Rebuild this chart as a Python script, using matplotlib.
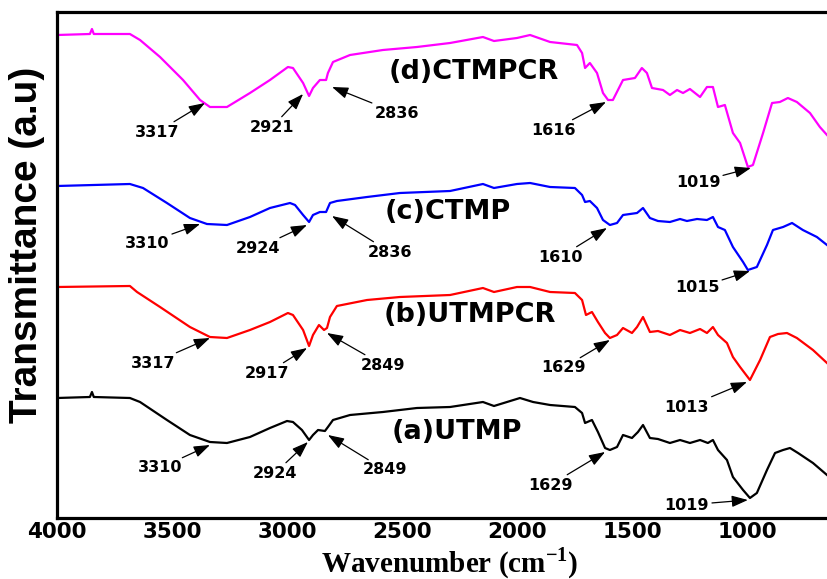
import matplotlib
matplotlib.use("Agg")
import matplotlib.pyplot as plt

# ---------------- data (wavenumber cm-1, transmittance a.u.) ----------------
wn_d = [4000, 3857, 3848, 3840, 3683, 3639, 3552, 3452, 3378, 3335, 3261, 3161, 3074, 2996, 2974,
        2930, 2904, 2887, 2857, 2830, 2822, 2800, 2726, 2583, 2435, 2291, 2148, 2100, 2000, 1943,
        1856, 1739, 1717, 1704, 1683, 1652, 1626, 1604, 1583, 1539, 1487, 1457, 1435, 1413, 1365,
        1335, 1304, 1278, 1248, 1204, 1174, 1148, 1126, 1096, 1061, 1030, 996, 974, 930, 891,
        857, 822, 783, 726, 683, 652]
t_d = [483, 484, 489, 484, 484, 478, 461, 438, 418, 411, 411, 425, 438, 451, 450,
       435, 422, 430, 438, 438, 445, 456, 463, 468, 471, 475, 481, 477, 480, 483,
       476, 473, 465, 450, 455, 445, 425, 418, 418, 438, 440, 450, 445, 430, 428,
       423, 428, 425, 429, 421, 431, 431, 411, 413, 385, 375, 351, 353, 385, 415,
       416, 420, 416, 405, 391, 383]

wn_c = [4000, 3683, 3626, 3522, 3422, 3348, 3261, 3161, 3074, 2987, 2965, 2930, 2904, 2887, 2857,
        2830, 2813, 2783, 2652, 2509, 2291, 2148, 2100, 2000, 1943, 1856, 1748, 1717, 1704, 1683,
        1652, 1626, 1596, 1565, 1539, 1478, 1452, 1422, 1387, 1335, 1291, 1261, 1217, 1174, 1148,
        1126, 1096, 1061, 1017, 996, 957, 913, 887, 843, 804, 757, 696, 652]
t_c = [332, 334, 330, 315, 300, 294, 293, 301, 310, 315, 313, 303, 296, 303, 306,
       306, 315, 317, 321, 325, 327, 334, 330, 334, 335, 331, 330, 323, 316, 317,
       310, 298, 293, 295, 303, 305, 310, 300, 297, 296, 299, 297, 299, 298, 301,
       291, 288, 271, 256, 248, 251, 273, 288, 291, 295, 288, 281, 273]

wn_b = [4000, 3683, 3652, 3552, 3422, 3335, 3261, 3161, 3074, 2996, 2974, 2930, 2904, 2887, 2861,
        2839, 2826, 2813, 2783, 2652, 2509, 2291, 2148, 2100, 2000, 1943, 1856, 1748, 1717, 1700,
        1674, 1648, 1617, 1596, 1565, 1539, 1500, 1478, 1452, 1422, 1387, 1335, 1291, 1248, 1204,
        1174, 1148, 1126, 1087, 1061, 1030, 987, 943, 900, 865, 826, 783, 713, 652]
t_b = [231, 232, 226, 211, 191, 181, 180, 188, 196, 205, 203, 188, 172, 183, 193,
       188, 190, 201, 212, 218, 221, 223, 230, 226, 231, 231, 226, 225, 218, 203,
       206, 196, 185, 180, 183, 190, 185, 191, 201, 186, 187, 183, 188, 185, 189,
       185, 191, 183, 175, 161, 151, 138, 158, 181, 184, 185, 180, 168, 155]

wn_a = [4000, 3857, 3848, 3840, 3683, 3639, 3522, 3422, 3335, 3261, 3161, 3074, 3000, 2974, 2935,
        2904, 2887, 2865, 2835, 2822, 2800, 2726, 2583, 2435, 2291, 2148, 2100, 1987, 1930, 1856,
        1748, 1717, 1704, 1674, 1648, 1617, 1596, 1565, 1539, 1500, 1474, 1452, 1422, 1387, 1335,
        1291, 1248, 1204, 1170, 1148, 1126, 1087, 1061, 1017, 987, 957, 913, 878, 843, 813,
        778, 713, 652]
t_a = [120, 121, 126, 121, 120, 116, 98, 83, 76, 75, 81, 90, 97, 96, 88,
       78, 83, 88, 87, 91, 98, 103, 106, 110, 111, 116, 112, 120, 116, 113,
       111, 105, 95, 98, 86, 70, 68, 71, 83, 80, 86, 93, 80, 79, 75,
       78, 75, 78, 75, 78, 68, 58, 41, 28, 20, 25, 48, 65, 68, 70,
       65, 55, 43]

series_names = ["(d)CTMPCR", "(c)CTMP", "(b)UTMPCR", "(a)UTMP"]
series_colors = ["#FF00FF", "#0000FF", "#FF0000", "#000000"]

# label positions (wavenumber, T) for series names
name_pos = [(2187, 446), (2300, 306), (2204, 203), (2261, 86)]

# peak annotations: text, text position, arrow tip
peak_labels = ["3317", "2921", "2836", "1616", "1019",
               "3310", "2924", "2836", "1610", "1015",
               "3317", "2917", "2849", "1629", "1013",
               "3310", "2924", "2849", "1629", "1019"]
peak_text_xy = [(3565, 386), (3065, 391), (2522, 405), (1843, 388), (1213, 336),
                (3609, 275), (3126, 270), (2552, 266), (1813, 261), (1217, 230),
                (3583, 155), (3087, 145), (2583, 153), (1800, 150), (1261, 111),
                (3552, 50), (3052, 45), (2574, 48), (1856, 33), (1261, 13)]
peak_tip_xy = [(3357, 415), (2930, 424), (2804, 431), (1613, 416), (983, 350),
               (3378, 294), (2913, 293), (2804, 302), (1609, 290), (987, 247),
               (3335, 180), (2913, 170), (2826, 185), (1596, 178), (1000, 136),
               (3335, 73), (2909, 76), (2822, 83), (1617, 66), (996, 18)]

xticks = [4000, 3500, 3000, 2500, 2000, 1500, 1000]

# ---------------- plot ----------------
plt.rcParams['mathtext.fontset'] = 'custom'
plt.rcParams['mathtext.rm'] = 'Liberation Serif:bold'
plt.rcParams['mathtext.bf'] = 'Liberation Serif:bold'

fig = plt.figure(figsize=(8.27, 5.79), dpi=100)
ax = fig.add_axes([57 / 827, 1 - 518 / 579, 1 - 57 / 827, (518 - 12) / 579])

for wn, t, c in zip([wn_d, wn_c, wn_b, wn_a], [t_d, t_c, t_b, t_a], series_colors):
    ax.plot(wn, t, color=c, lw=1.6)

ax.set_xlim(4000, 652)
ax.set_ylim(0, 506)

for name, (x, y) in zip(series_names, name_pos):
    ax.text(x, y, name, ha='center', va='center', fontsize=19.5,
            fontweight='bold', family='DejaVu Sans')

for lab, txy, tip in zip(peak_labels, peak_text_xy, peak_tip_xy):
    ax.annotate(lab, xy=tip, xytext=txy, ha='center', va='center',
                fontsize=11.5, fontweight='bold', family='DejaVu Sans',
                arrowprops=dict(arrowstyle='-|>,head_length=0.7,head_width=0.25',
                                color='black', lw=0.9, shrinkA=0, shrinkB=0,
                                mutation_scale=14))

ax.set_xticks(xticks)
ax.set_xticklabels([str(v) for v in xticks], fontsize=15.5, fontweight='bold',
                   family='DejaVu Sans')
ax.set_yticks([])
ax.tick_params(axis='x', length=0, pad=3)

for s in ['left', 'bottom', 'top']:
    ax.spines[s].set_linewidth(2.3)
ax.spines['right'].set_visible(False)

ax.set_xlabel(r'Wavenumber (cm$^{-1}$)', fontsize=21, fontweight='bold',
              family='Liberation Serif')
ax.xaxis.set_label_coords((450 - 57) / 770, -(545 - 518) / 506)
ax.set_ylabel('Transmittance (a.u)', fontsize=28, fontweight='bold',
              family='Liberation Sans')
ax.yaxis.set_label_coords(-(57 - 45) / 770, (518 - 245) / 506)

fig.savefig("out.png", dpi=100)
